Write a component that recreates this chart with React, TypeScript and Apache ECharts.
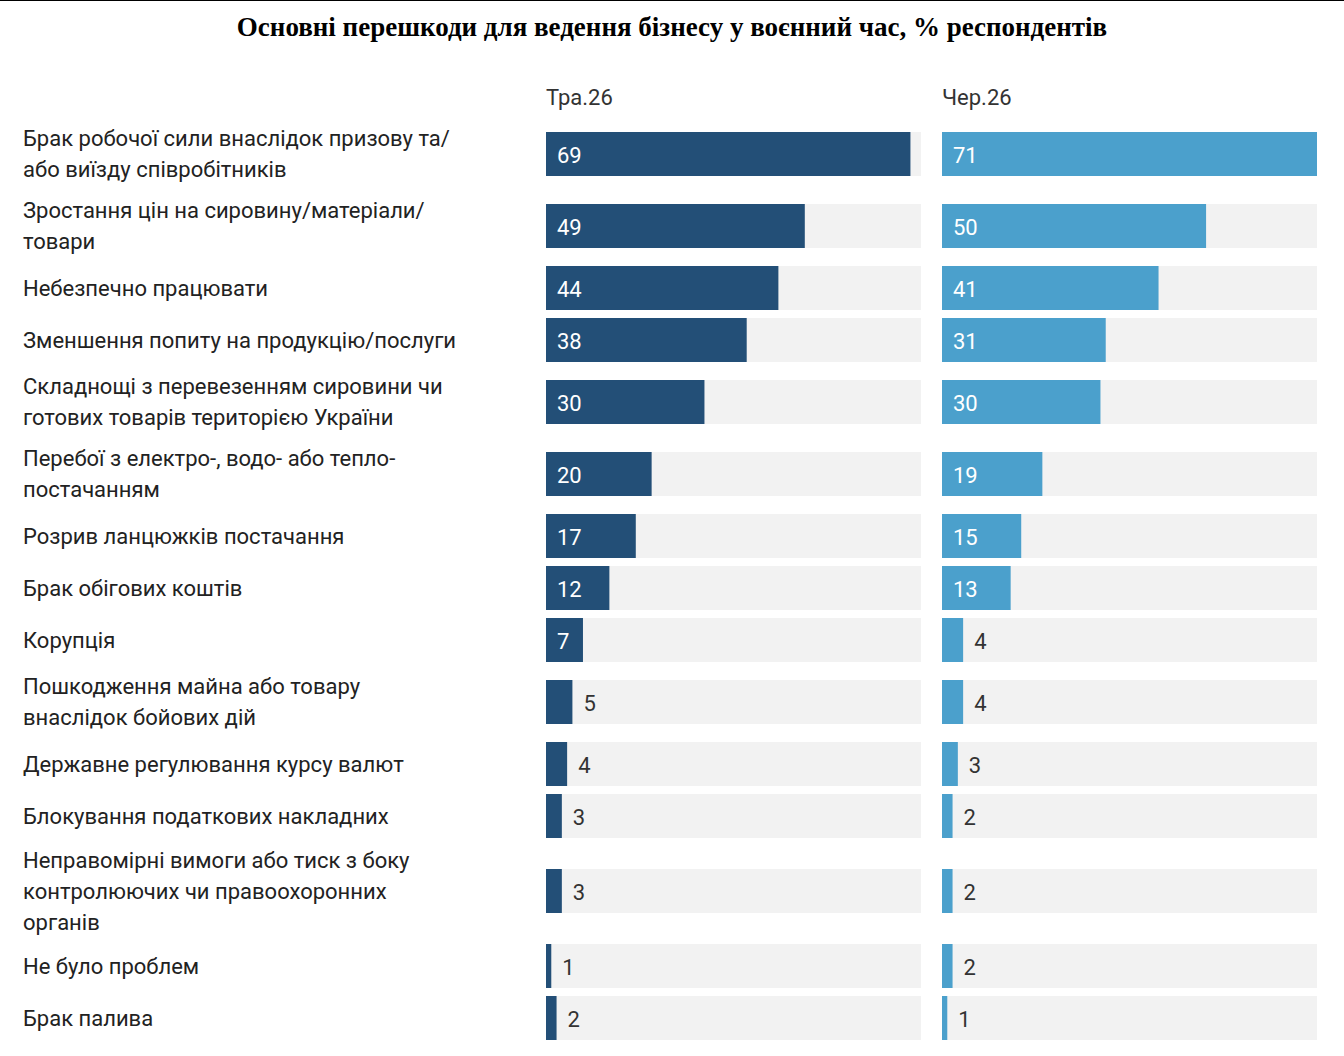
import { useEffect, useRef } from 'react';
import * as echarts from 'echarts';

const title = 'Основні перешкоди для ведення бізнесу у воєнний час, % респондентів';
const periods = ['Тра.26', 'Чер.26'];
const categories = [
  'Брак робочої сили внаслідок призову та/\nабо виїзду співробітників',
  'Зростання цін на сировину/матеріали/\nтовари',
  'Небезпечно працювати',
  'Зменшення попиту на продукцію/послуги',
  'Складнощі з перевезенням сировини чи\nготових товарів територією України',
  'Перебої з електро-, водо- або тепло-\nпостачанням',
  'Розрив ланцюжків постачання',
  'Брак обігових коштів',
  'Корупція',
  'Пошкодження майна або товару\nвнаслідок бойових дій',
  'Державне регулювання курсу валют',
  'Блокування податкових накладних',
  'Неправомірні вимоги або тиск з боку\nконтролюючих чи правоохоронних\nорганів',
  'Не було проблем',
  'Брак палива',
];
const may = [69, 49, 44, 38, 30, 20, 17, 12, 7, 5, 4, 3, 3, 1, 2];
const june = [71, 50, 41, 31, 30, 19, 15, 13, 4, 4, 3, 2, 2, 2, 1];
const colors = ['#234f77', '#4ba0cc'];
const MAX = 71;

// row slot heights depend on how many lines the label wraps to
const slot = (lines: number) => (lines === 1 ? 52 : lines === 2 ? 72 : 98);
const centers: number[] = [];
let acc = 0;
categories.forEach((c) => {
  const h = slot(c.split('\n').length);
  centers.push(acc + h / 2);
  acc += h;
});
const TOTAL = acc;

const FONT = '22px Roboto';

export default function App() {
  const ref = useRef<HTMLDivElement>(null);

  useEffect(() => {
    if (!ref.current) return;
    const chart = echarts.init(ref.current, undefined, { renderer: 'svg' });

    const makeRender = (idx: number) => (params: any, api: any) => {
      const i = params.dataIndex;
      const v = api.value(0);
      const c = api.value(1);
      const p0 = api.coord([0, c]);
      const p1 = api.coord([v, c]);
      const pm = api.coord([MAX, c]);
      const h = api.size([0, 44])[1];
      const inside = v >= 7;
      const children: any[] = [
        { type: 'rect', shape: { x: p0[0], y: c === 0 ? 0 : p0[1] - h / 2, width: pm[0] - p0[0], height: h }, style: { fill: '#f2f2f2' } },
        { type: 'rect', shape: { x: p0[0], y: p0[1] - h / 2, width: p1[0] - p0[0], height: h }, style: { fill: colors[idx] } },
        {
          type: 'text',
          style: {
            text: String(v),
            x: inside ? p0[0] + 11 : p1[0] + 11,
            y: p0[1] + 1,
            verticalAlign: 'middle',
            align: 'left',
            font: FONT,
            fill: inside ? '#ffffff' : '#333333',
          },
        },
      ];
      if (idx === 0) {
        children.push({
          type: 'text',
          style: {
            text: categories[i],
            x: 23,
            y: p0[1],
            verticalAlign: 'middle',
            align: 'left',
            font: FONT,
            lineHeight: 31,
            fill: '#222222',
          },
        });
      }
      return { type: 'group', children };
    };

    const grids = [
      { left: 546, width: 375, top: 118, height: TOTAL },
      { left: 942, width: 375, top: 118, height: TOTAL },
    ];

    chart.setOption({
      animation: false,
      title: {
        text: title,
        left: 'center',
        top: 8,
        textStyle: { fontFamily: 'Liberation Serif', fontWeight: 'bold', fontSize: 27, color: '#000' },
      },
      graphic: [
        { type: 'line', shape: { x1: 0, y1: 0.5, x2: 1344, y2: 0.5 }, style: { stroke: '#000', lineWidth: 1 } },
        ...periods.map((p, k) => ({
          type: 'text',
          left: grids[k].left,
          top: 86,
          style: { text: p, font: FONT, fill: '#333333' },
        })),
      ],
      grid: grids,
      xAxis: grids.map((_, k) => ({ type: 'value', gridIndex: k, min: 0, max: MAX, show: false })),
      yAxis: grids.map((_, k) => ({ type: 'value', gridIndex: k, min: 0, max: TOTAL, inverse: true, show: false })),
      series: [may, june].map((vals, k) => ({
        type: 'custom',
        xAxisIndex: k,
        yAxisIndex: k,
        renderItem: makeRender(k),
        data: vals.map((v, i) => [v, centers[i]]),
        clip: false,
      })),
    });

    return () => chart.dispose();
  }, []);

  return <div ref={ref} style={{ position: 'fixed', left: 0, top: 0, width: 1344, height: 1056, background: '#fff' }} />;
}
